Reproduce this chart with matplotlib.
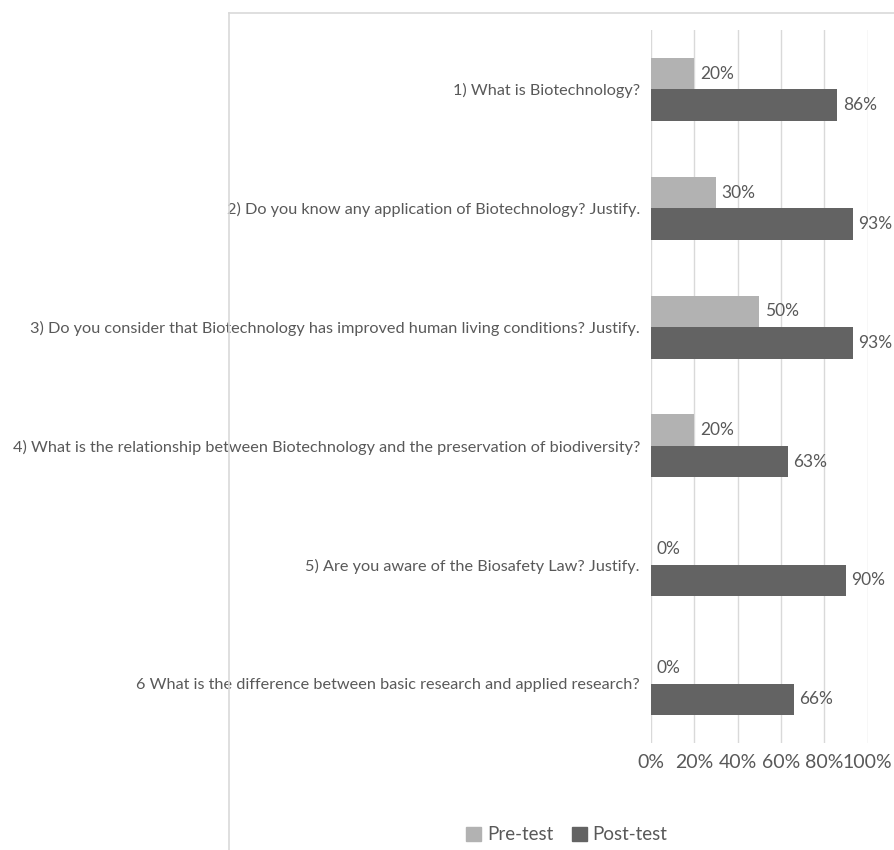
import numpy as np
import matplotlib
matplotlib.use("Agg")
import matplotlib.pyplot as plt
from matplotlib.lines import Line2D
from matplotlib.patches import Patch

plt.rcParams['font.family'] = ['Lato', 'DejaVu Sans']

questions = [
    "1) What is Biotechnology?",
    "2) Do you know any application of Biotechnology? Justify.",
    "3) Do you consider that Biotechnology has improved human living conditions? Justify.",
    "4) What is the relationship between Biotechnology and the preservation of biodiversity?",
    "5) Are you aware of the Biosafety Law? Justify.",
    "6 What is the difference between basic research and applied research?",
]
pre_test = [20, 30, 50, 20, 0, 0]
post_test = [86, 93, 93, 63, 90, 66]
ticks = [0, 20, 40, 60, 80, 100]

pre_color = "#B2B2B2"
post_color = "#636363"
text_color = "#595959"
grid_color = "#D9D9D9"

fig = plt.figure(figsize=(8.94, 8.5), dpi=100)
ax = fig.add_axes([651/894, 1-743/850, (867.7-651)/894, (743-30)/850])

y = np.arange(len(questions))
h = 0.265
b1 = ax.barh(y - h/2, pre_test, height=h, color=pre_color, zorder=3)
b2 = ax.barh(y + h/2, post_test, height=h, color=post_color, zorder=3)

for bars, vals in ((b1, pre_test), (b2, post_test)):
    for bar, v in zip(bars, vals):
        ax.annotate(f"{v}%", (v, bar.get_y() + bar.get_height()/2),
                    xytext=(4, 0), textcoords="offset points",
                    va="center", ha="left", fontsize=12.5, color=text_color)

ax.set_xlim(0, 100)
ax.set_ylim(len(questions) - 0.5, -0.5)
ax.set_xticks(ticks)
ax.set_xticklabels([f"{t}%" for t in ticks], fontsize=14, color=text_color)
ax.set_yticks(y)
ax.set_yticklabels(questions, fontsize=11.7, color=text_color)
ax.tick_params(axis="both", length=0)
ax.tick_params(axis="y", pad=8)
ax.tick_params(axis="x", pad=8)
ax.xaxis.grid(True, color=grid_color, linewidth=1, zorder=0)
for s in ax.spines.values():
    s.set_visible(False)

# outer chart frame (only left and top edges visible)
fx = 229/894
fy = 1 - 13/850
fig.add_artist(Line2D([fx, fx], [0, fy], color=grid_color, linewidth=1.2))
fig.add_artist(Line2D([fx, 1], [fy, fy], color=grid_color, linewidth=1.2))

handles = [Patch(color=pre_color, label="Pre-test"),
           Patch(color=post_color, label="Post-test")]
fig.legend(handles=handles, loc="center", bbox_to_anchor=(567/894, 1-835/850),
           ncol=2, frameon=False, fontsize=13.5, labelcolor=text_color,
           handlelength=0.8, handleheight=0.8, handletextpad=0.3, columnspacing=1.0)

fig.savefig("out.png", dpi=100)
